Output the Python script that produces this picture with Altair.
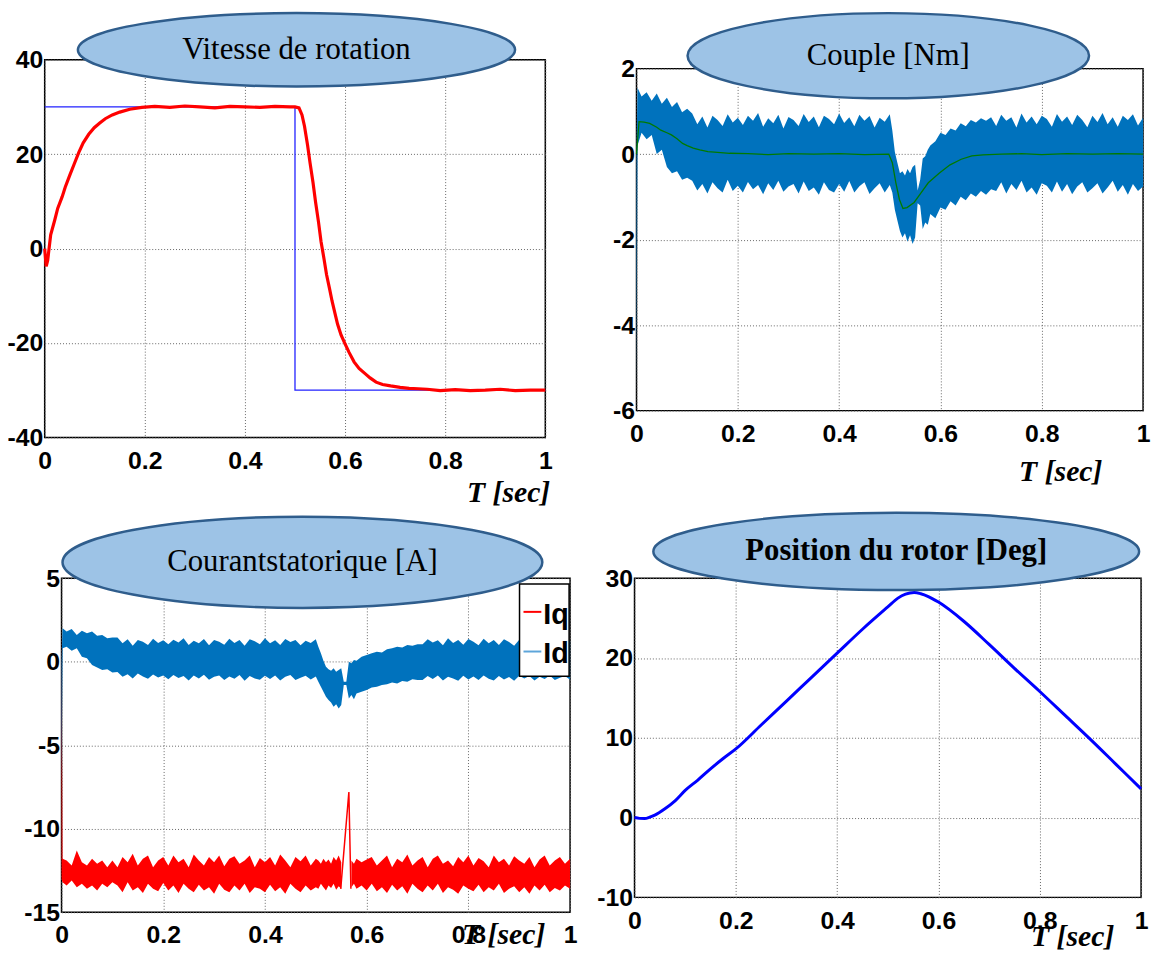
import altair as alt
import pandas as pd

NARROW = "'Liberation Sans', Arial, sans-serif"
SERIF = "'Liberation Serif', 'Times New Roman', serif"

# ------------------------------------------------------------------ data
TITLES = ["Vitesse de rotation", "Couple [Nm]", "Courantstatorique [A]", "Position du rotor [Deg]"]
X_LABEL = "T [sec]"
X_TICKS = [0, 0.2, 0.4, 0.6, 0.8, 1]
Y_TICKS_1 = [-40, -20, 0, 20, 40]
Y_TICKS_2 = [-6, -4, -2, 0, 2]
Y_TICKS_3 = [-15, -10, -5, 0, 5]
Y_TICKS_4 = [-10, 0, 10, 20, 30]
LEGEND_3 = ["Iq", "Id"]
LEGEND_COLORS = ["#FF0000", "#5DA5DA"]

# panel 1 : speed
T_W = [0, 0.003, 0.006, 0.012, 0.02, 0.026, 0.035, 0.041, 0.05, 0.059,
       0.068, 0.077, 0.088, 0.099, 0.11, 0.121, 0.135, 0.15, 0.17, 0.194,
       0.22, 0.25, 0.28, 0.31, 0.34, 0.37, 0.4, 0.43, 0.46, 0.49,
       0.5, 0.508, 0.514, 0.519, 0.525, 0.53, 0.536, 0.541, 0.547, 0.552,
       0.558, 0.563, 0.569, 0.574, 0.58, 0.585, 0.592, 0.6, 0.608, 0.618,
       0.628, 0.64, 0.65, 0.662, 0.675, 0.691, 0.71, 0.728, 0.746, 0.764,
       0.79, 0.82, 0.85, 0.88, 0.91, 0.94, 0.97, 1.0]
W_MEAS = [0, -3.8, -2.5, 2.9, 6.0, 8.5, 11.0, 13.0, 15.5, 17.9,
          20.3, 22.4, 24.2, 25.6, 26.6, 27.5, 28.3, 28.9, 29.5, 29.9,
          30.1, 29.9, 30.2, 30.0, 29.8, 30.1, 30.0, 29.9, 30.1, 30.0,
          30.0, 29.8, 28.3, 25.9, 22.0, 18.2, 14.0, 9.9, 5.6, 1.5,
          -2.2, -5.5, -8.5, -11.1, -13.8, -16.0, -18.3, -20.2, -22.0, -24.0,
          -25.4, -26.5, -27.4, -28.3, -28.8, -29.1, -29.4, -29.6, -29.7, -29.8,
          -30.1, -29.9, -30.1, -30.0, -29.8, -30.1, -30.0, -30.0]
T_WREF = [0.0, 0.5, 0.5, 1.0]
W_REF = [30, 30, -30, -30]

# sample times of the noisy envelopes (panels 2 and 3)
T_ENV = [0.0, 0.002, 0.01, 0.02, 0.03, 0.04, 0.05, 0.06, 0.07, 0.08, 0.09, 0.10,
         0.11, 0.12, 0.13, 0.14, 0.15, 0.16, 0.17, 0.18, 0.19, 0.20,
         0.21, 0.22, 0.23, 0.24, 0.25, 0.26, 0.27, 0.28, 0.29, 0.30,
         0.31, 0.32, 0.33, 0.34, 0.35, 0.36, 0.37, 0.38, 0.39, 0.40,
         0.41, 0.42, 0.43, 0.44, 0.45, 0.46, 0.47, 0.48, 0.49, 0.50,
         0.505, 0.51, 0.515, 0.52, 0.525, 0.53, 0.535, 0.54, 0.545, 0.55,
         0.555, 0.56, 0.565, 0.57, 0.575, 0.58,
         0.59, 0.60,
         0.61, 0.62, 0.63, 0.64, 0.65, 0.66, 0.67, 0.68, 0.69, 0.70,
         0.71, 0.72, 0.73, 0.74, 0.75, 0.76, 0.77, 0.78, 0.79, 0.80,
         0.81, 0.82, 0.83, 0.84, 0.85, 0.86, 0.87, 0.88, 0.89, 0.90,
         0.91, 0.92, 0.93, 0.94, 0.95, 0.96, 0.97, 0.98, 0.99, 1.00]

# panel 2 : torque, upper / lower envelope of the ripple and its mean
CE_HI = [0.0, 1.55, 1.35, 1.45, 1.25, 1.42, 1.18, 1.32, 1.1, 1.22, 0.98, 1.06,
         0.95, 0.7, 0.88, 0.62, 0.9, 0.8, 0.66, 0.93, 0.74, 0.85,
         0.68, 0.9, 0.78, 0.96, 0.64, 0.84, 0.72, 0.92, 0.6, 0.87,
         0.8, 0.66, 0.94, 0.75, 0.88, 0.63, 0.9, 0.82, 0.7, 0.95,
         0.73, 0.86, 0.65, 0.92, 0.78, 0.89, 0.62, 0.85, 0.76, 0.93,
         0.55, 0.05, -0.2, -0.45, -0.4, -0.5, -0.35, -0.45, -0.3, -0.25,
         -0.85, -0.6, -0.1, -0.05, 0.1, 0.2,
         0.3, 0.5,
         0.45, 0.6, 0.55, 0.72, 0.65, 0.8, 0.74, 0.84, 0.78, 0.86,
         0.66, 0.92, 0.78, 0.86, 0.62, 0.95, 0.74, 0.88, 0.7, 0.9,
         0.82, 0.64, 0.94, 0.76, 0.88, 0.68, 0.92, 0.8, 0.63, 0.9,
         0.75, 0.96, 0.7, 0.86, 0.64, 0.9, 0.8, 0.93, 0.67, 0.85]
CE_LO = [-5.5, 0.2, 0.5, 0.35, 0.45, 0.0, 0.1, -0.3, -0.45, -0.4, -0.6, -0.55,
         -0.62, -0.85, -0.7, -0.92, -0.66, -0.8, -0.9, -0.6, -0.86, -0.74,
         -0.9, -0.65, -0.82, -0.72, -0.94, -0.68, -0.84, -0.62, -0.88, -0.76,
         -0.7, -0.92, -0.64, -0.86, -0.78, -0.95, -0.66, -0.84, -0.9, -0.7,
         -0.88, -0.63, -0.9, -0.75, -0.66, -0.93, -0.8, -0.68, -0.9, -0.72,
         -0.9, -1.3, -1.55, -1.8, -1.95, -1.85, -2.05, -1.9, -2.1, -1.95,
         -1.15, -1.2, -1.75, -1.6, -1.65, -1.4,
         -1.5, -1.25,
         -1.3, -1.1, -1.2, -1.0, -1.08, -0.92, -1.0, -0.86, -0.95, -0.82,
         -0.86, -0.66, -0.92, -0.7, -0.84, -0.62, -0.9, -0.78, -0.95, -0.68,
         -0.74, -0.9, -0.64, -0.88, -0.7, -0.94, -0.76, -0.66, -0.9, -0.8,
         -0.68, -0.92, -0.78, -0.62, -0.88, -0.72, -0.95, -0.7, -0.86, -0.76]
T_CEM = [0, 0.005, 0.015, 0.026, 0.04, 0.048, 0.06, 0.069, 0.08, 0.091,
         0.1, 0.112, 0.125, 0.141, 0.16, 0.184, 0.22, 0.26, 0.3, 0.35,
         0.4, 0.45, 0.498, 0.505, 0.512, 0.519, 0.526, 0.534, 0.548, 0.562,
         0.576, 0.598, 0.619, 0.641, 0.662, 0.684, 0.72, 0.76, 0.8, 0.85,
         0.9, 0.95, 1.0]
CE_MEAN = [0, 0.76, 0.75, 0.72, 0.63, 0.56, 0.5, 0.45, 0.36, 0.25,
           0.2, 0.14, 0.1, 0.06, 0.04, 0.02, 0.01, -0.01, 0.01, 0,
           0.01, -0.01, 0.0, -0.2, -0.67, -1.06, -1.27, -1.25, -1.13, -0.9,
           -0.67, -0.44, -0.25, -0.12, -0.04, -0.02, 0.0, 0.01, -0.01, 0.01,
           0.0, 0.01, 0.0]

# panel 3 : stator currents (envelopes), None = no sample drawn
ID_HI = [0.0, 2.0, 1.8, 1.95, 1.6, 1.85, 1.7, 1.8, 1.55, 1.6, 1.4, 1.45,
         1.45, 1.1, 1.35, 0.95, 1.3, 1.2, 1.0, 1.38, 1.12, 1.28,
         1.05, 1.32, 1.15, 1.4, 1.0, 1.25, 1.1, 1.36, 0.98, 1.3,
         1.2, 1.02, 1.38, 1.12, 1.3, 0.96, 1.34, 1.22, 1.05, 1.4,
         1.1, 1.28, 1.0, 1.36, 1.18, 1.3, 0.98, 1.25, 1.12, 1.35,
         0.9, 0.5, 0.05, -0.3, -0.45, -0.55, -0.4, -0.6, -0.5, -0.4,
         -1.2, -1.2, 0.0, -0.1, 0.1, 0.05,
         0.3, 0.4,
         0.5, 0.6, 0.55, 0.75, 0.8, 0.9, 0.85, 1.0, 0.95, 1.05,
         1.05, 1.35, 1.15, 1.28, 0.98, 1.4, 1.12, 1.3, 1.02, 1.36,
         1.2, 0.98, 1.38, 1.1, 1.3, 1.0, 1.34, 1.18, 0.96, 1.32,
         1.1, 1.4, 1.04, 1.3, 0.98, 1.36, 1.15, 1.38, 1.0, 1.25]
ID_LO = [-7.3, 0.8, 0.9, 0.65, 0.8, 0.3, 0.2, -0.2, -0.35, -0.5, -0.45, -0.65,
         -0.62, -0.9, -0.75, -1.0, -0.7, -0.88, -1.02, -0.76, -0.95, -0.82,
         -1.05, -0.8, -0.98, -0.86, -1.12, -0.82, -1.0, -0.78, -1.08, -0.9,
         -0.82, -1.1, -0.88, -1.02, -0.8, -1.14, -0.86, -1.0, -1.08, -0.84,
         -1.04, -0.82, -1.12, -0.9, -0.8, -1.1, -0.96, -0.84, -1.06, -0.88,
         -1.2, -1.5, -1.8, -2.1, -2.3, -2.45, -2.7, -2.55, -2.8, -2.6,
         -1.4, -1.4, -2.2, -2.0, -2.25, -1.9,
         -1.8, -1.7,
         -1.55, -1.5, -1.4, -1.35, -1.25, -1.3, -1.15, -1.2, -1.05, -1.1,
         -1.1, -0.86, -1.04, -0.82, -1.12, -0.9, -1.0, -1.14, -0.84, -1.06,
         -0.88, -1.1, -0.82, -1.02, -1.12, -0.86, -1.06, -0.92, -1.14, -0.84,
         -1.0, -0.86, -1.12, -0.9, -1.04, -0.82, -1.1, -0.96, -0.86, -1.08]
IQ_HI = [1.8, -11.8, -11.9, -12.2, -11.3, -12.0, -12.2, -11.8, -12.1, -11.9, -12.3, -11.9,
         -12.3, -11.7, -12.0, -11.5, -12.2, -11.8, -11.6, -12.3, -11.9, -11.7,
         -12.2, -11.6, -12.0, -11.8, -12.3, -11.55, -11.9, -12.2, -11.7, -12.0,
         -11.6, -12.25, -11.8, -11.65, -12.1, -11.9, -11.6, -12.3, -11.75, -12.0,
         -11.7, -12.2, -11.55, -11.9, -12.3, -11.7, -11.95, -11.6, -12.2, -11.8,
         -11.9, -12.1, -11.8, -12.0, -11.85, -12.1, -11.7, -11.9, -11.6, -12.0,
         None, None, None, -11.9, -12.1, -11.8,
         -12.0, -11.85,
         -11.7, -12.2, -11.9, -11.6, -12.3, -11.8, -12.0, -11.55, -12.2, -11.9,
         -11.7, -12.3, -11.8, -11.6, -12.1, -11.9, -12.25, -11.7, -12.0, -11.6,
         -12.2, -11.75, -11.95, -12.3, -11.6, -12.0, -11.8, -12.2, -11.65, -11.9,
         -12.1, -11.7, -12.3, -11.85, -11.6, -12.2, -11.9, -11.7, -12.1, -11.8]
IQ_LO = [-13.0, -13.2, -13.4, -13.1, -13.5, -13.3, -13.6, -13.4, -13.7, -13.3, -13.5, -13.2,
         -13.4, -13.8, -13.2, -13.7, -13.5, -13.85, -13.3, -13.6, -13.75, -13.25,
         -13.7, -13.4, -13.85, -13.3, -13.6, -13.8, -13.35, -13.7, -13.5, -13.9,
         -13.3, -13.65, -13.8, -13.4, -13.7, -13.3, -13.85, -13.5, -13.6, -13.8,
         -13.35, -13.75, -13.5, -13.9, -13.3, -13.6, -13.8, -13.4, -13.7, -13.5,
         -13.6, -13.3, -13.5, -13.7, -13.4, -13.55, -13.3, -13.65, -13.45, -13.6,
         None, None, None, -13.5, -13.3, -13.6,
         -13.4, -13.7,
         -13.3, -13.75, -13.5, -13.85, -13.35, -13.7, -13.45, -13.9, -13.3, -13.6,
         -13.8, -13.4, -13.7, -13.3, -13.85, -13.5, -13.65, -13.9, -13.4, -13.6,
         -13.75, -13.35, -13.8, -13.5, -13.7, -13.3, -13.85, -13.6, -13.45, -13.8,
         -13.5, -13.9, -13.4, -13.7, -13.35, -13.8, -13.55, -13.7, -13.4, -13.6]
T_IQ_SPIKE = [0.549, 0.565, 0.569]
IQ_SPIKE = [-13.6, -7.8, -13.6]

# panel 4 : rotor position
T_POS = [0, 0.01, 0.02, 0.03, 0.04, 0.06, 0.08, 0.1, 0.125, 0.15,
         0.175, 0.2, 0.25, 0.3, 0.35, 0.4, 0.45, 0.5, 0.52, 0.535,
         0.552, 0.565, 0.58, 0.6, 0.65, 0.7, 0.75, 0.8, 0.85, 0.9,
         0.95, 1.0]
POS = [0, -0.1, -0.12, 0.05, 0.3, 1.1, 2.1, 3.4, 4.7, 6.1,
       7.4, 8.6, 11.6, 14.6, 17.6, 20.6, 23.6, 26.4, 27.5, 28.0,
       28.2, 28.05, 27.7, 27.0, 24.6, 21.7, 18.7, 15.8, 12.8, 9.8,
       6.7, 3.6]

# ------------------------------------------------------------------ helpers
ELL_FILL = "#9DC3E6"
ELL_STROKE = "#2F5D8C"
LABEL_EXPR = "'' + datum.value"


def xenc():
    return alt.X("t:Q", scale=alt.Scale(domain=[0, 1], nice=False, zero=False),
                 axis=alt.Axis(values=X_TICKS, labelExpr=LABEL_EXPR, title=None))


def yenc(field, dom, ticks):
    return alt.Y(field, scale=alt.Scale(domain=dom, nice=False, zero=False),
                 axis=alt.Axis(values=ticks, labelExpr=LABEL_EXPR, title=None))


def ellipse(cx, cy, w, h, text, bold=False):
    k = h / w
    c = 0.5523
    path = (f"M -1 0 C -1 {-c*k:.4f} {-c:.4f} {-k:.4f} 0 {-k:.4f} "
            f"C {c:.4f} {-k:.4f} 1 {-c*k:.4f} 1 0 "
            f"C 1 {c*k:.4f} {c:.4f} {k:.4f} 0 {k:.4f} "
            f"C {-c:.4f} {k:.4f} -1 {c*k:.4f} -1 0 Z")
    src = pd.DataFrame({"label": [text]})
    shape = alt.Chart(src).mark_point(
        shape=path, size=w * w, filled=True, fill=ELL_FILL, stroke=ELL_STROKE,
        strokeWidth=2.5, opacity=1, fillOpacity=1, strokeOpacity=1
    ).encode(x=alt.value(cx), y=alt.value(cy))
    label = alt.Chart(src).mark_text(
        font=SERIF, fontSize=31, fontWeight="bold" if bold else "normal",
        color="black", baseline="middle", align="center"
    ).encode(x=alt.value(cx), y=alt.value(cy), text="label:N")
    return [shape, label]


def xlabel(px, py):
    src = pd.DataFrame({"label": [X_LABEL]})
    return alt.Chart(src).mark_text(
        font=SERIF, fontSize=30, fontWeight="bold", fontStyle="italic",
        color="black", align="right", baseline="middle"
    ).encode(x=alt.value(px), y=alt.value(py), text="label:N")


def spacer(w, h):
    return alt.Chart(pd.DataFrame({"s": [0]})).mark_point(opacity=0).encode(
        x=alt.value(0), y=alt.value(0)
    ).properties(width=w, height=h, view=alt.ViewBackground(stroke="transparent"))


def legend_box(x0, x1, y0, y1):
    src = pd.DataFrame({"s": [0]})
    box = alt.Chart(src).mark_rect(fill="white", stroke="black", strokeWidth=1.5).encode(
        x=alt.value(x0), x2=alt.value(x1), y=alt.value(y0), y2=alt.value(y1))
    parts = [box]
    rows_y = [y0 + 28, y0 + 68]
    for name, col, yy in zip(LEGEND_3, LEGEND_COLORS, rows_y):
        parts.append(alt.Chart(src).mark_rule(color=col, strokeWidth=2).encode(
            x=alt.value(x0 + 4), x2=alt.value(x0 + 22), y=alt.value(yy)))
        parts.append(alt.Chart(pd.DataFrame({"label": [name]})).mark_text(
            font=NARROW, fontSize=29, fontWeight="bold", color="black",
            align="left", baseline="middle").encode(
            x=alt.value(x0 + 24), y=alt.value(yy + 3), text="label:N"))
    return parts


# ------------------------------------------------------------------ panel 1
W1, H1 = 505, 381
df_w = pd.DataFrame({"t": T_W, "v": W_MEAS})
df_wref = pd.DataFrame({"t": T_WREF, "v": W_REF, "o": list(range(len(T_WREF)))})
p1_ref = alt.Chart(df_wref).mark_line(color="#2222FF", strokeWidth=1.3).encode(
    x=xenc(), y=yenc("v:Q", [-40, 40], Y_TICKS_1), order="o:Q")
p1_meas = alt.Chart(df_w).mark_line(color="#FF0000", strokeWidth=3.2).encode(
    x=xenc(), y=yenc("v:Q", [-40, 40], Y_TICKS_1))
p1 = alt.layer(p1_ref, p1_meas, *ellipse(254, -10, 441, 74, TITLES[0]),
               xlabel(510, 437)).properties(width=W1, height=H1)

# ------------------------------------------------------------------ panel 2
W2, H2 = 511, 345
df_ce = pd.DataFrame({"t": T_ENV, "hi": CE_HI, "lo": CE_LO})
df_cem = pd.DataFrame({"t": T_CEM, "v": CE_MEAN})
p2_band = alt.Chart(df_ce).mark_area(color="#0072BD", opacity=1).encode(
    x=xenc(), y=yenc("hi:Q", [-6, 2], Y_TICKS_2), y2="lo:Q")
p2_mean = alt.Chart(df_cem).mark_line(color="#007A00", strokeWidth=1.3).encode(
    x=xenc(), y=yenc("v:Q", [-6, 2], Y_TICKS_2))
p2 = alt.layer(p2_band, p2_mean, *ellipse(254, -13, 405, 86, TITLES[1]),
               xlabel(470, 407)).properties(width=W2, height=H2)

# ------------------------------------------------------------------ panel 3
W3, H3 = 513, 337
df_id = pd.DataFrame({"t": T_ENV, "hi": ID_HI, "lo": ID_LO})
df_iq = pd.DataFrame({"t": T_ENV, "hi": IQ_HI, "lo": IQ_LO}).dropna()
df_iq["seg"] = (df_iq["t"] > 0.555).astype(int)
df_spike = pd.DataFrame({"t": T_IQ_SPIKE, "v": IQ_SPIKE})
p3_iq = alt.Chart(df_iq).mark_area(color="#FF0000", opacity=1).encode(
    x=xenc(), y=yenc("hi:Q", [-15, 5], Y_TICKS_3), y2="lo:Q", detail="seg:N")
p3_spike = alt.Chart(df_spike).mark_line(color="#FF0000", strokeWidth=1.5).encode(
    x=xenc(), y=yenc("v:Q", [-15, 5], Y_TICKS_3))
p3_id = alt.Chart(df_id).mark_area(color="#0072BD", opacity=1).encode(
    x=xenc(), y=yenc("hi:Q", [-15, 5], Y_TICKS_3), y2="lo:Q")
p3 = alt.layer(p3_iq, p3_spike, p3_id, *ellipse(243, -16, 484, 92, TITLES[2]),
               *legend_box(462, 512, 6, 99),
               xlabel(488, 360)).properties(width=W3, height=H3)

# ------------------------------------------------------------------ panel 4
W4, H4 = 511, 322
df_pos = pd.DataFrame({"t": T_POS, "v": POS})
p4_line = alt.Chart(df_pos).mark_line(color="#0000FF", strokeWidth=3,
                                      interpolate="monotone").encode(
    x=xenc(), y=yenc("v:Q", [-10, 30], Y_TICKS_4))
p4 = alt.layer(p4_line, *ellipse(264, -27, 490, 78, TITLES[3], bold=True),
               xlabel(484, 362)).properties(width=W4, height=H4)

# ------------------------------------------------------------------ layout
row1 = alt.hconcat(
    p1, spacer(92, 1),
    alt.vconcat(spacer(W2, 9), p2, spacing=0, bounds="flush"),
    spacing=0, bounds="flush"
)

row2 = alt.hconcat(
    spacer(17, 1), p3, spacer(65, 1), p4, spacing=0, bounds="flush"
)

# nested concat groups count as zero height in flush layout, so the
# spacing is the full offset between the two rows
chart = alt.vconcat(row1, row2, spacing=523, bounds="flush").properties(
    padding={"left": -2, "top": -5, "right": 0, "bottom": 0}, background="white"
).configure_view(
    stroke="black", strokeWidth=1.5
).configure_axis(
    labelFont=NARROW, labelFontSize=25, labelFontWeight="bold", labelColor="black",
    grid=True, gridColor="#666666", gridDash=[1, 2], gridWidth=1, gridOpacity=1,
    domain=False, ticks=False, labelFlush=False, labelOverlap=False, labelBound=False
).configure_axisX(
    labelPadding=11
).configure_axisY(
    labelPadding=2
)

chart.save("out.html", embed_options={"renderer": "svg", "actions": False})
